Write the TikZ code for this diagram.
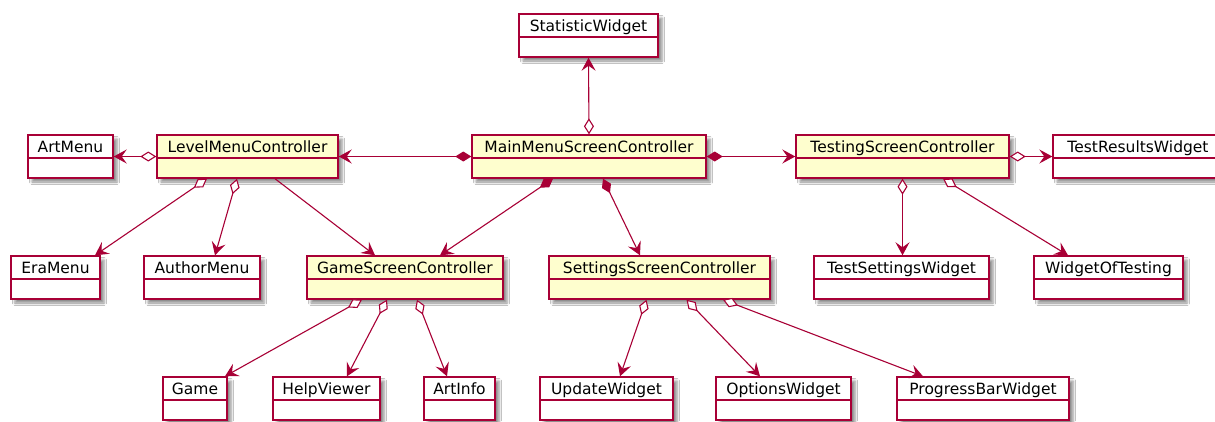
\documentclass[tikz,border=0pt]{standalone}
\usepackage{fontspec}
\setmainfont{DejaVu Sans}
\usetikzlibrary{arrows.meta,shadows.blur}
\definecolor{umlred}{HTML}{A80036}
\definecolor{umlyellow}{HTML}{FEFECE}

\begin{document}
\begin{tikzpicture}[x=1pt,y=-1pt,
box/.style={draw=umlred,line width=1.4pt,fill=white,font=\fontsize{15.5}{18}\selectfont,inner xsep=2pt,inner ysep=3pt,text height=14pt,text depth=23pt,
  blur shadow={shadow xshift=4pt,shadow yshift=-4pt,shadow blur radius=2.5pt,shadow opacity=45},
  path picture={\draw[umlred,line width=1.4pt] ([yshift=-23pt]path picture bounding box.north west) -- ([yshift=-23pt]path picture bounding box.north east);}},
ctrl/.style={box,fill=umlyellow},
assoc/.style={draw=umlred,line width=1.1pt,arrows={-Stealth[length=13pt,width=14pt,inset=5pt]}},
agg/.style={draw=umlred,line width=1.1pt,arrows={Diamond[open,fill=white,length=16pt,width=10pt]-Stealth[length=13pt,width=14pt,inset=5pt]}},
comp/.style={draw=umlred,line width=1.1pt,arrows={Diamond[length=16pt,width=10pt]-Stealth[length=13pt,width=14pt,inset=5pt]}}]
\useasboundingbox[fill=white] (0,0) rectangle (1215,421);
\node[box,minimum width=139pt] (stat) at (588.5,35.5) {StatisticWidget};
\node[ctrl,minimum width=234pt] (main) at (589,156.5) {MainMenuScreenController};
\node[box,minimum width=85pt] (artmenu) at (70.5,156.5) {ArtMenu};
\node[ctrl,minimum width=181pt] (level) at (247.5,156.5) {LevelMenuController};
\node[ctrl,minimum width=213pt] (testing) at (902.5,156.5) {TestingScreenController};
\node[box,minimum width=170pt] (results) at (1138,156.5) {TestResultsWidget};
\node[box,minimum width=89pt] (era) at (55.5,277.5) {EraMenu};
\node[box,minimum width=116pt] (author) at (202,277.5) {AuthorMenu};
\node[ctrl,minimum width=196pt] (game) at (405,277.5) {GameScreenController};
\node[ctrl,minimum width=221pt] (settings) at (659.5,277.5) {SettingsScreenController};
\node[box,minimum width=175pt] (tsettings) at (901.5,277.5) {TestSettingsWidget};
\node[box,minimum width=149pt] (wot) at (1108.5,277.5) {WidgetOfTesting};
\node[box,minimum width=64pt] (gamebox) at (195,398.5) {Game};
\node[box,minimum width=107pt] (help) at (326.5,398.5) {HelpViewer};
\node[box,minimum width=71pt] (artinfo) at (459.5,398.5) {ArtInfo};
\node[box,minimum width=133pt] (update) at (606.5,398.5) {UpdateWidget};
\node[box,minimum width=135pt] (options) at (783.5,398.5) {OptionsWidget};
\node[box,minimum width=172pt] (progress) at (983,398.5) {ProgressBarWidget};
\draw[agg] (main.north) -- (stat.south);
\draw[comp] (main.west) -- (level.east);\draw[comp] (main.east) -- (testing.west);
\draw[agg] (level.west) -- (artmenu.east);\draw[agg] (testing.east) -- (results.west);
\draw[comp] ([xshift=-36pt]main.south) -- ([xshift=35pt]game.north);
\draw[comp] ([xshift=14pt]main.south) -- ([xshift=-19.5pt]settings.north);
\draw[agg] ([xshift=-40.5pt]level.south) -- ([xshift=39.5pt]era.north);
\draw[agg] ([xshift=-10.5pt]level.south) -- ([xshift=13pt]author.north);
\draw[assoc] ([xshift=27.5pt]level.south) -- ([xshift=-30pt]game.north);
\draw[agg] ([xshift=-43pt]game.south) -- ([xshift=30pt]gamebox.north);
\draw[agg] ([xshift=-18pt]game.south) -- ([xshift=20.5pt]help.north);
\draw[agg] ([xshift=12pt]game.south) -- ([xshift=-12.5pt]artinfo.north);
\draw[agg] ([xshift=-13pt]settings.south) -- ([xshift=13.5pt]update.north);
\draw[agg] ([xshift=27pt]settings.south) -- ([xshift=-23.5pt]options.north);
\draw[agg] ([xshift=63.5pt]settings.south) -- ([xshift=-60pt]progress.north);
\draw[agg] (testing.south) -- (testing.south |- tsettings.north);
\draw[agg] ([xshift=40.5pt]testing.south) -- ([xshift=-40.5pt]wot.north);
\end{tikzpicture}
\end{document}
